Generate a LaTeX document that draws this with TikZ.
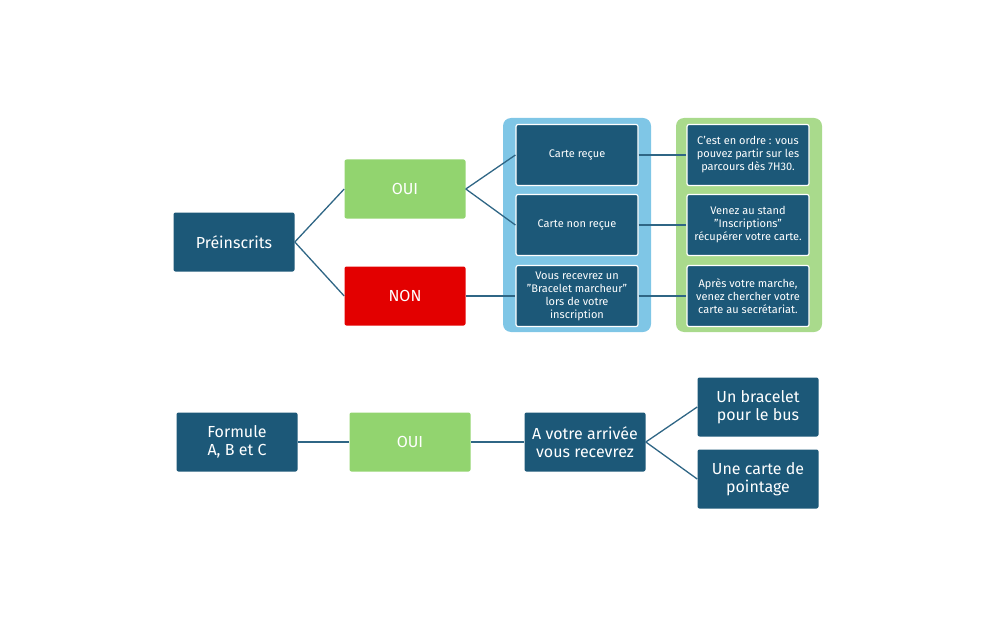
\documentclass[tikz,border=0pt]{standalone}
\usepackage{fontspec}
\setmainfont{Fira Sans}
\usetikzlibrary{positioning}
\definecolor{darkbox}{HTML}{1C5878}
\definecolor{oui}{HTML}{92D46F}
\definecolor{non}{HTML}{E30000}
\definecolor{lblue}{HTML}{7FC6E6}
\definecolor{lgreen}{HTML}{A9DA8C}
\definecolor{wire}{HTML}{2F6685}
\begin{document}
\begin{tikzpicture}[x=1pt,y=-1pt,semithick,
  box/.style={rectangle,rounded corners=2pt,fill=darkbox,text=white,align=center,
    minimum width=121pt,minimum height=59pt,inner sep=2pt,font=\fontsize{16}{18}\selectfont},
  small/.style={box,draw=white,line width=1.2pt,minimum width=122pt,minimum height=61pt,
    font=\fontsize{11}{13}\selectfont},
  ouibox/.style={box,fill=oui},
  nonbox/.style={box,fill=non},
  link/.style={draw=wire,line width=1.3pt}]
\useasboundingbox (0,0) rectangle (1008,639);
% containers
\fill[lblue,rounded corners=8pt] (503,118) rectangle (651,332);
\fill[lgreen,rounded corners=8pt] (676,118) rectangle (822,332);

% upper tree
\node[box] (pre) at (234,242) {Préinscrits};
\node[ouibox] (oui) at (405,189) {OUI};
\node[nonbox] (non) at (405,296) {NON};
\node[small] (recue) at (577,155) {Carte reçue};
\node[small] (nonrecue) at (577,225) {Carte non reçue};
\node[small] (bracelet) at (577,296) {Vous recevrez un\\"Bracelet marcheur"\\lors de votre\\inscription};
\node[small] (ordre) at (748,155) {C'est en ordre : vous\\pouvez partir sur les\\parcours dès 7H30.};
\node[small] (stand) at (748,225) {Venez au stand\\"Inscriptions"\\récupérer votre carte.};
\node[small] (apres) at (748,296) {Après votre marche,\\venez chercher votre\\carte au secrétariat.};

% lower tree
\node[box] (formule) at (237,442) {Formule\\A, B et C};
\node[ouibox] (oui2) at (410,442) {OUI};
\node[box] (arrivee) at (585,442) {A votre arrivée\\vous recevrez};
\node[box] (bus) at (758,407) {Un bracelet\\pour le bus};
\node[box] (pointage) at (758,479) {Une carte de\\pointage};

\path[link] (pre.east) -- (oui.west);
\path[link] (pre.east) -- (non.west);
\path[link] (oui.east) -- (recue.west);
\path[link] (oui.east) -- (nonrecue.west);
\path[link] (non) -- (bracelet);
\path[link] (recue) -- (ordre);
\path[link] (nonrecue) -- (stand);
\path[link] (bracelet) -- (apres);
\path[link] (formule) -- (oui2);
\path[link] (oui2) -- (arrivee);
\path[link] (arrivee.east) -- (bus.west);
\path[link] (arrivee.east) -- (pointage.west);
\end{tikzpicture}
\end{document}
